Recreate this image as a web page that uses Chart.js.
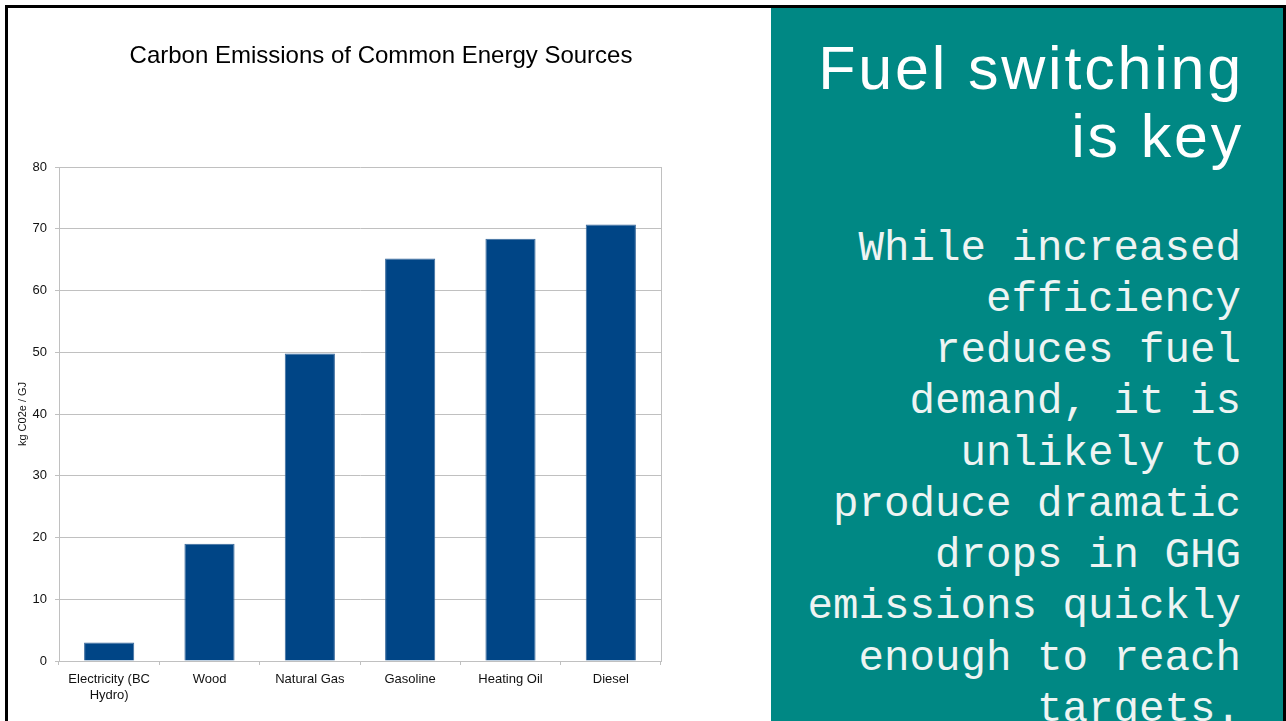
<!DOCTYPE html>
<html>
<head>
<meta charset="utf-8">
<title>Carbon Emissions of Common Energy Sources</title>
<script src="https://cdn.jsdelivr.net/npm/chart.js@4.4.0/dist/chart.umd.min.js"></script>
<style>
  html, body { margin: 0; padding: 0; width: 1286px; height: 721px; overflow: hidden; background: #fff; }
  #frame { position: absolute; left: 5px; top: 5px; width: 1275px; height: 740px; border: 3px solid #000; }
  #chartBox { position: absolute; left: 8px; top: 8px; width: 746px; height: 713px; }
  #panel { position: absolute; left: 771px; top: 8px; width: 512px; height: 720px; background: #008884; overflow: hidden; }
  #heading {
    position: absolute; left: 0; top: 25.5px; width: 473px; text-align: right;
    font-family: "Liberation Sans", Arial, sans-serif; font-size: 61px; line-height: 68px;
    letter-spacing: 2.8px; color: #fff;
  }
  #body {
    position: absolute; left: 0; top: 215.5px; width: 470px; text-align: right;
    font-family: "Liberation Mono", monospace; font-size: 42.5px; line-height: 51.25px;
    color: #eef4f3; white-space: nowrap;
  }
</style>
</head>
<body>
<div id="frame"></div>
<div id="chartBox"><canvas id="chart" width="746" height="713"></canvas></div>
<div id="panel">
  <div id="heading">Fuel switching<br>is key</div>
  <div id="body">While increased<br>efficiency<br>reduces fuel<br>demand, it is<br>unlikely to<br>produce dramatic<br>drops in GHG<br>emissions quickly<br>enough to reach<br>targets.</div>
</div>
<script>
// Energy sources and their emission intensity (kg CO2e per GJ)
const categories = [["Electricity (BC", "Hydro)"], "Wood", "Natural Gas", "Gasoline", "Heating Oil", "Diesel"];
const emissions = [3, 19, 49.8, 65.2, 68.4, 70.7];
const yTicks = { min: 0, max: 80, step: 10 };

const gridGray = "#c0c0c0";
const labelFont = { family: "'Liberation Sans', Arial, sans-serif", size: 13 };

new Chart(document.getElementById("chart"), {
  type: "bar",
  data: {
    labels: categories,
    datasets: [{
      data: emissions,
      backgroundColor: "#004586",
      borderColor: "#3a6a9c",
      borderWidth: 1,
      barPercentage: 0.5,
      categoryPercentage: 1.0
    }]
  },
  options: {
    responsive: false,
    animation: false,
    layout: { padding: { left: 0, right: 0, top: 0, bottom: 0 } },
    plugins: {
      legend: { display: false },
      tooltip: { enabled: false },
      title: {
        display: true,
        text: "Carbon Emissions of Common Energy Sources",
        color: "#000",
        font: { family: "'Liberation Sans', Arial, sans-serif", size: 24, weight: "normal", lineHeight: 1.2 },
        padding: { top: 33.6, bottom: 96.6 }
      }
    },
    scales: {
      x: {
        grid: { offset: true, drawOnChartArea: false, tickLength: 4, color: gridGray },
        border: { color: gridGray },
        ticks: { color: "#111", font: labelFont, padding: 7, maxRotation: 0, autoSkip: false },
        afterFit: s => { s.height = 60; }
      },
      y: {
        min: yTicks.min, max: yTicks.max,
        grid: { color: gridGray, tickLength: 4 },
        border: { color: gridGray },
        ticks: { stepSize: yTicks.step, color: "#111", font: labelFont, padding: 8 },
        title: {
          display: true, text: "kg C02e / GJ", color: "#111",
          font: { family: "'Liberation Sans', Arial, sans-serif", size: 11 },
          padding: { top: 8, bottom: 0 }
        },
        afterFit: s => { s.width = 51; }
      },
      frameRight: {
        type: "linear", position: "right", display: true,
        grid: { display: false },
        ticks: { display: false },
        border: { display: true, color: gridGray },
        afterFit: s => { s.width = 93; }
      }
    }
  }
});
</script>
</body>
</html>
